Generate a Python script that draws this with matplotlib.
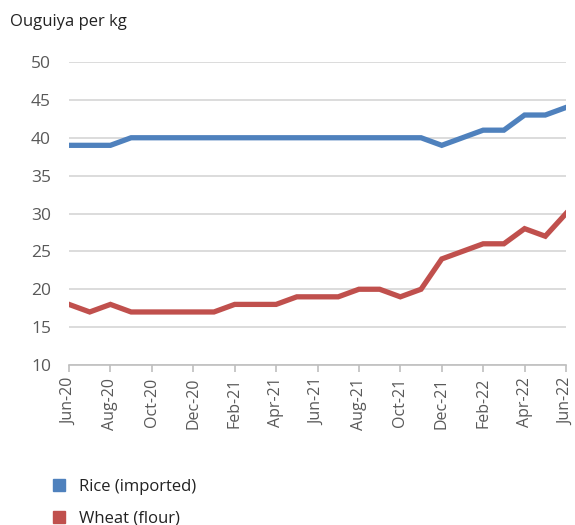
import matplotlib
matplotlib.use("Agg")
import matplotlib.pyplot as plt
from matplotlib.lines import Line2D

plt.rcParams['font.family'] = ['Open Sans', 'DejaVu Sans']

months = ["Jun-20", "Jul-20", "Aug-20", "Sep-20", "Oct-20", "Nov-20", "Dec-20",
          "Jan-21", "Feb-21", "Mar-21", "Apr-21", "May-21", "Jun-21", "Jul-21",
          "Aug-21", "Sep-21", "Oct-21", "Nov-21", "Dec-21", "Jan-22", "Feb-22",
          "Mar-22", "Apr-22", "May-22", "Jun-22"]
rice = [39, 39, 39, 40, 40, 40, 40, 40, 40, 40, 40, 40, 40, 40, 40, 40, 40, 40,
        39, 40, 41, 41, 43, 43, 44]
wheat = [18, 17, 18, 17, 17, 17, 17, 17, 18, 18, 18, 19, 19, 19, 20, 20, 19, 20,
         24, 25, 26, 26, 28, 27, 30]
yticks = [10, 15, 20, 25, 30, 35, 40, 45, 50]

blue = '#4F81BD'
red = '#C0504D'

fig = plt.figure(figsize=(5.75, 5.25), dpi=100)
ax = fig.add_axes([69/575, 1-365/525, (566-69)/575, (365-62)/525])

x = list(range(len(months)))
ax.plot(x, rice, color=blue, lw=3.8, solid_joinstyle='miter', zorder=3)
ax.plot(x, wheat, color=red, lw=3.8, solid_joinstyle='miter', zorder=3)

ax.set_xlim(0, len(months)-1)
ax.set_ylim(10, 50)
ax.set_yticks(yticks)
ax.yaxis.grid(True, color='#d9d9d9', lw=1.3)
ax.set_axisbelow(True)
for s in ['top', 'right', 'left']:
    ax.spines[s].set_visible(False)
ax.spines['bottom'].set_color('#bfbfbf')
ax.spines['bottom'].set_linewidth(1.2)
ax.tick_params(axis='y', length=0, pad=13, labelsize=12.5, labelcolor='#595959')
ax.set_xticks(x[::2])
ax.set_xticklabels(months[::2], rotation=90)
ax.tick_params(axis='x', length=5, color='#bfbfbf', width=1.2, labelsize=11.5,
               labelcolor='#595959', pad=4)

fig.text(10/575, 1-22/525, "Ouguiya per kg", fontsize=12, color='#222222', va='center')

handles = [Line2D([], [], ls='none', marker='s', markersize=9, color=blue),
           Line2D([], [], ls='none', marker='s', markersize=9, color=red)]
fig.legend(handles, ["Rice (imported)", "Wheat (flour)"], loc='upper left',
           bbox_to_anchor=(36/575, 1-464/525), frameon=False, fontsize=12,
           handlelength=1.0, handletextpad=0.7, labelspacing=0.95,
           labelcolor='#222222')

fig.savefig("out.png", dpi=100)
